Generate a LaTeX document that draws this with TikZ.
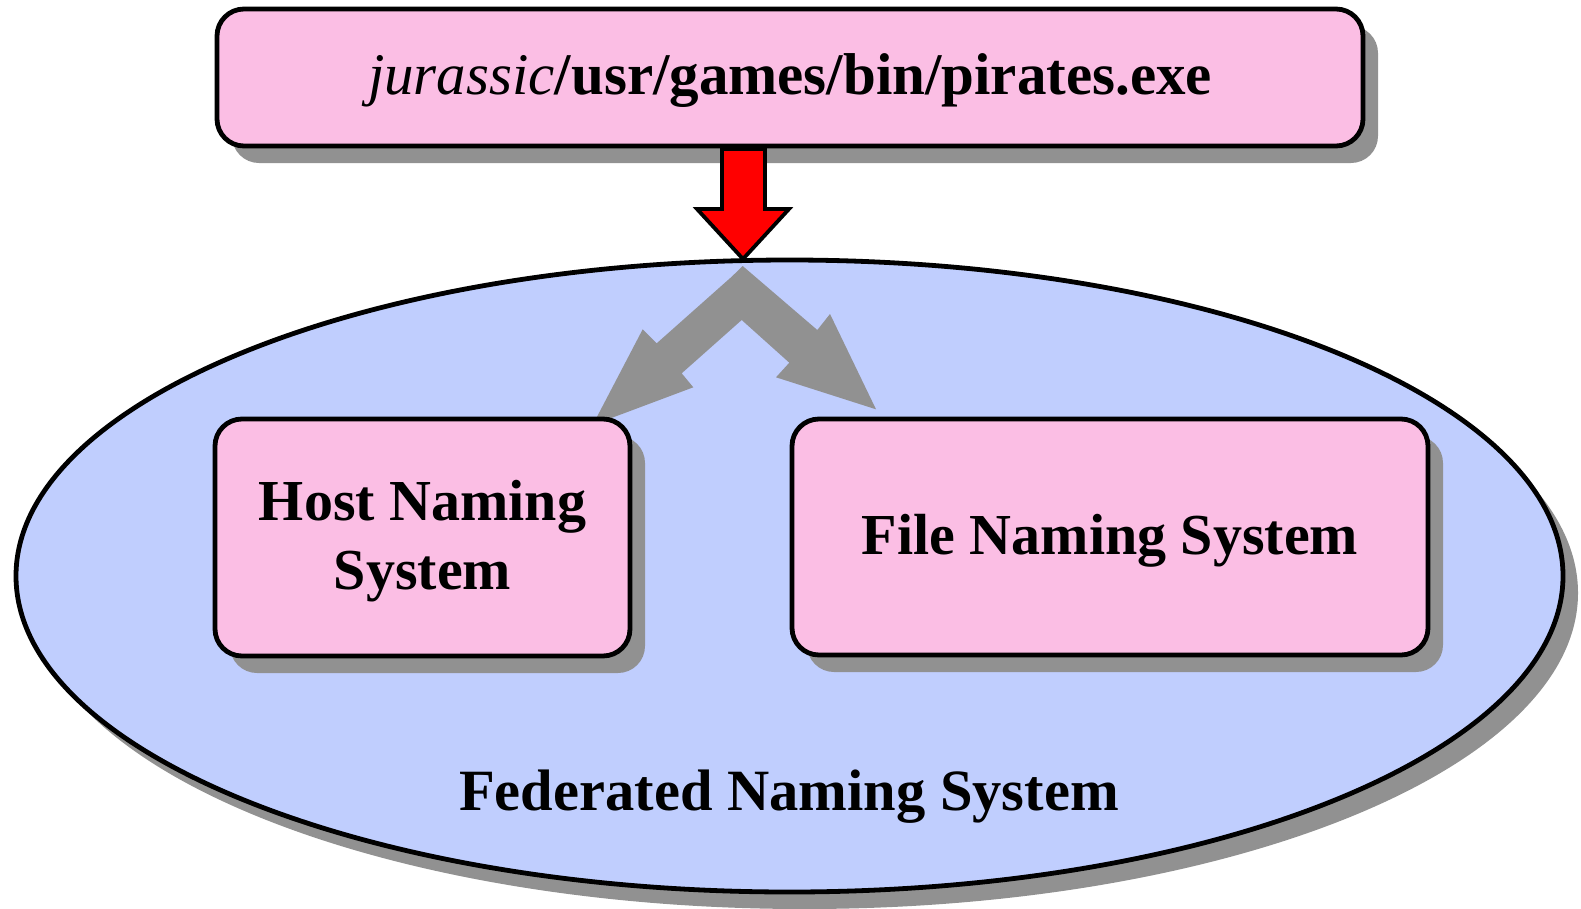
\documentclass[tikz,border=0pt]{standalone}
\usepackage{fontspec}
\setmainfont{Liberation Serif}
\usetikzlibrary{shapes.geometric,shadows}
\definecolor{boxpink}{RGB}{251,190,228}
\definecolor{fedblue}{RGB}{192,206,254}
\definecolor{shadegray}{RGB}{145,145,145}
\definecolor{arrowred}{RGB}{255,0,0}
\tikzset{
  shade drop/.style={general shadow={shadow xshift=15pt, shadow yshift=-17pt, fill=shadegray, draw=none}},
  namebox/.style={draw=black, line width=4.8pt, fill=boxpink, rounded corners=27pt,
    inner sep=0pt, shade drop},
  boxtext/.style={inner sep=0pt, align=center, font=\fontsize{58}{69}\selectfont\bfseries},
  fedspace/.style={ellipse, draw=black, line width=4.8pt, fill=fedblue, inner sep=0pt, shade drop},
  downarrow/.style={draw=black, line width=3.8pt, fill=arrowred, line join=miter},
  splitarrow/.style={fill=shadegray, draw=none},
}
\begin{document}
\begin{tikzpicture}[x=1pt, y=-1pt]
  \useasboundingbox (0,0) rectangle (1581,908);

  % the federated name space
  \node[fedspace, minimum width=1547pt, minimum height=632pt] (fed) at (789.5,576) {};
  \node[anchor=base, font=\fontsize{58.5}{70}\selectfont\bfseries] (fedlabel) at (789,810) {Federated Naming System};

  % the composite name being resolved
  \node[namebox, minimum width=1146pt, minimum height=137pt] (path) at (790,77.5) {};
  \node[boxtext, font=\fontsize{59}{69}\selectfont\bfseries] (pathlabel) at ([yshift=-3pt]path.center)
    {\textmd{\itshape jurassic}/usr/games/bin/pirates.exe};

  % name handed to the federation
  \coordinate (shaftL) at (722,149);
  \coordinate (shaftR) at (765,149);
  \coordinate (tip) at (743,259);
  \draw[downarrow] (shaftL) -- (722,209) -- (697,209) -- (tip) -- (789,209) -- (765,209) -- (shaftR) -- cycle;

  % resolution split between the two naming systems
  \coordinate (apex) at (742.7,266);
  \coordinate (fork) at (741.7,320);
  \coordinate (tipL) at (592.7,425);
  \coordinate (tipR) at (876,409.3);
  \fill[splitarrow] (apex) -- (817.3,330) -- (830,314) -- (tipR) -- (776,377.3) -- (789.3,362.7)
    -- (fork) -- (681.7,373.3) -- (693.3,387.3) -- (tipL) -- (642.7,329.3) -- (656.7,343.3)
    -- (731.7,276.7) -- cycle;

  % component naming systems
  \node[namebox, minimum width=415pt, minimum height=237pt] (host) at (422.5,537.5) {};
  \node[boxtext] (hostlabel) at ([yshift=-4pt]host.center) {Host Naming\\System};
  \node[namebox, minimum width=636pt, minimum height=236pt] (file) at (1110,537) {};
  \node[boxtext] (filelabel) at ([yshift=-4pt]file.center) {File Naming System};
\end{tikzpicture}
\end{document}
